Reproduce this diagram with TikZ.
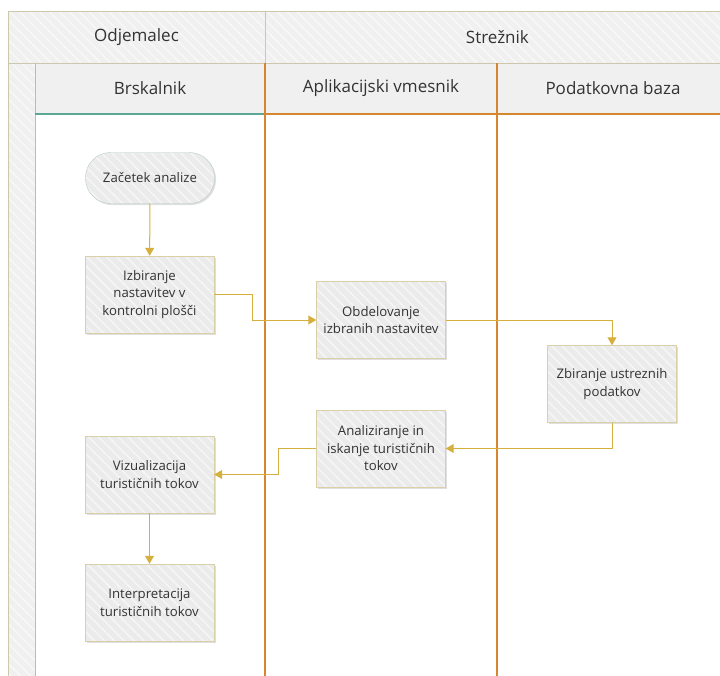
\documentclass[tikz,border=0pt]{standalone}
\usepackage{fontspec}
\setmainfont{Open Sans}
\usetikzlibrary{arrows.meta,shadows,patterns.meta,positioning}
\definecolor{laneorange}{RGB}{214,134,44}
\definecolor{laneteal}{RGB}{92,168,148}
\definecolor{lanegray}{RGB}{170,196,186}
\definecolor{headline}{RGB}{204,200,172}
\definecolor{headfill}{RGB}{240,240,240}
\definecolor{boxfill}{RGB}{235,235,235}
\definecolor{boxline}{RGB}{218,208,168}
\definecolor{startline}{RGB}{184,204,194}
\definecolor{flowgold}{RGB}{214,176,62}
\definecolor{txt}{RGB}{51,51,51}
\tikzset{
  hatch/.style={preaction={fill=#1},preaction={pattern={Lines[angle=-45,distance=7pt,line width=1.5pt]},pattern color=white!55!#1}},
  head/.style={draw=headline,fill=headfill,text=txt,font=\fontsize{17}{20}\selectfont,inner sep=0pt},
  task/.style={drop shadow={opacity=.25,shadow xshift=1.5pt,shadow yshift=-1.5pt},hatch=boxfill,draw=boxline,
    minimum width=129,minimum height=77,align=center,inner sep=0pt,
    text=txt,font=\fontsize{13.2}{17.5}\selectfont},
  startbox/.style={task,draw=startline,rounded corners=25pt,minimum height=51},
  flow/.style={draw=flowgold,line width=1pt,-{Triangle[width=9pt,length=8pt]}}
}
\begin{document}
\begin{tikzpicture}[x=1pt,y=-1pt]
  \useasboundingbox (0,0) rectangle (720,675);
  \node[head,fill=none,hatch=headfill,minimum width=257,minimum height=52] (client) at (136.5,37) {Odjemalec};
  \node[head,fill=none,hatch=headfill,minimum width=464,minimum height=52,anchor=west] (server) at (client.east) {Strežnik};
  \path[draw=headline,hatch=headfill] (8,63) rectangle (35,680);
  \node[head,minimum width=230,minimum height=51] (browser) at (150,88.5) {Brskalnik};
  \node[head,minimum width=232,minimum height=51] (middle) at (381,88.5) {Aplikacijski vmesnik};
  \node[head,minimum width=232,minimum height=51] (db) at (613,88.5) {Podatkovna baza};
  \draw[lanegray] (35,63) -- (35,680);
  \draw[laneteal,line width=1.5] (35,114) -- (265,114);
  \draw[laneorange,line width=1.5] (265,114) -- (722,114);
  \draw[laneorange,line width=2] (265,63) -- (265,680) (497,63) -- (497,680);

  \node[startbox] (start) at (150,178) {Začetek analize};
  \node[task] (pick) at (149.5,294.5) {Izbiranje\\nastavitev v\\kontrolni plošči};
  \node[task] (proc) at (381,320) {Obdelovanje\\izbranih nastavitev};
  \node[task] (collect) at (612,384) {Zbiranje ustreznih\\podatkov};
  \node[task] (anal) at (381,448.5) {Analiziranje in\\iskanje turističnih\\tokov};
  \node[task] (vis) at (149.5,474.5) {Vizualizacija\\turističnih tokov};
  \node[task] (interp) at (149.5,602.5) {Interpretacija\\turističnih tokov};

  \draw[flow] (start) -- (pick);
  \draw[flow] (pick.east) -- ++(38,0) |- (proc.west);
  \draw[flow] (proc.east) -| (collect.north);
  \draw[flow] (collect.south) |- (anal.east);
  \draw[flow] (anal.west) -- ++(-38,0) |- (vis.east);
  \draw[flow] (vis) -- (interp);
\end{tikzpicture}
\end{document}
